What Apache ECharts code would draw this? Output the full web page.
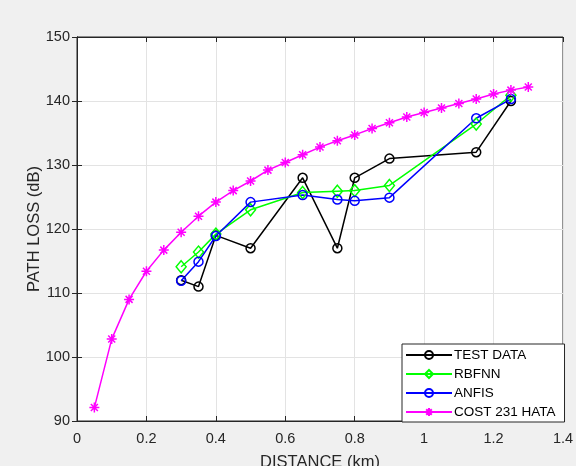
<!DOCTYPE html>
<html><head><meta charset="utf-8">
<script src="https://cdn.jsdelivr.net/npm/echarts@6/dist/echarts.min.js"></script>
<style>html,body{margin:0;padding:0;background:#f0f0f0;}#c{width:576px;height:466px;}</style>
</head><body><div id="c"></div>
<script>
const testX = [0.3, 0.35, 0.4, 0.5, 0.65, 0.75, 0.8, 0.9, 1.15, 1.25];
const testY = [112, 111, 119, 117, 128, 117, 128, 131, 132, 140];
const rbfnnX = [0.3, 0.35, 0.4, 0.5, 0.65, 0.75, 0.8, 0.9, 1.15, 1.25];
const rbfnnY = [114.1, 116.4, 119.2, 123.0, 125.7, 125.9, 126.0, 126.8, 136.4, 140.9];
const anfisX = [0.3, 0.35, 0.4, 0.5, 0.65, 0.75, 0.8, 0.9, 1.15, 1.25];
const anfisY = [111.9, 114.9, 118.9, 124.2, 125.3, 124.6, 124.4, 124.9, 137.3, 140.3];
const hataX = [0.05,0.1,0.15,0.2,0.25,0.3,0.35,0.4,0.45,0.5,0.55,0.6,0.65,0.7,0.75,0.8,0.85,0.9,0.95,1.0,1.05,1.1,1.15,1.2,1.25,1.3];
const hataY = [92.1,102.8,109.0,113.4,116.7,119.5,122.0,124.2,126.0,127.5,129.2,130.4,131.6,132.8,133.8,134.7,135.7,136.6,137.5,138.2,138.9,139.6,140.3,141.1,141.7,142.2];
const xTicks = [0, 0.2, 0.4, 0.6, 0.8, 1, 1.2, 1.4];
const yTicks = [90, 100, 110, 120, 130, 140, 150];
const names = ['TEST DATA', 'RBFNN', 'ANFIS', 'COST 231 HATA'];

const zip = (xs, ys) => xs.map((x, i) => [x, ys[i]]);
const font = 'Liberation Sans, Arial, Helvetica, sans-serif';
const tc = '#262626';
const asterisk = 'path://M0 -1 L0 1 M-1 0 L1 0 M-0.7 -0.7 L0.7 0.7 M-0.7 0.7 L0.7 -0.7';

const chart = echarts.init(document.getElementById('c'), null, {renderer: 'canvas'});
const axisCommon = {
  axisLine: {show: true, lineStyle: {color: '#262626', width: 1}},
  axisTick: {show: true, inside: true, length: 5, lineStyle: {color: '#262626'}},
};
chart.setOption({
  animation: false,
  backgroundColor: '#f0f0f0',
  textStyle: {fontFamily: font},
  grid: {left: 77, right: 13, top: 37, bottom: 45, show: true, outerBoundsMode: 'none', containLabel: false,
         backgroundColor: '#ffffff', borderColor: '#262626', borderWidth: 1},
  xAxis: [{
    type: 'value', min: xTicks[0], max: xTicks[xTicks.length - 1], interval: 0.2,
    name: 'DISTANCE (km)', nameLocation: 'middle', nameGap: 33, nameMoveOverlap: false,
    nameTextStyle: {color: tc, fontSize: 16.5, fontFamily: font},
    axisLabel: {color: tc, fontSize: 14.5, margin: 10, fontFamily: font},
    splitLine: {show: true, lineStyle: {color: '#e3e3e3', width: 1}},
    ...axisCommon
  }, {
    type: 'value', position: 'top', min: xTicks[0], max: xTicks[xTicks.length - 1], interval: 0.2,
    axisLabel: {show: false}, splitLine: {show: false}, ...axisCommon
  }],
  yAxis: [{
    type: 'value', min: yTicks[0], max: yTicks[yTicks.length - 1], interval: 10,
    name: 'PATH LOSS (dB)', nameLocation: 'middle', nameGap: 34, nameMoveOverlap: false,
    nameTextStyle: {color: tc, fontSize: 16.5, fontFamily: font},
    axisLabel: {color: tc, fontSize: 14.5, margin: 7, fontFamily: font},
    splitLine: {show: true, lineStyle: {color: '#e3e3e3', width: 1}},
    ...axisCommon
  }, {
    type: 'value', position: 'right', min: yTicks[0], max: yTicks[yTicks.length - 1], interval: 10,
    axisLabel: {show: false}, splitLine: {show: false}, ...axisCommon
  }],
  legend: {
    orient: 'vertical', left: 402, top: 344,
    backgroundColor: '#ffffff', borderColor: '#262626', borderWidth: 1,
    padding: [4, 9, 3, 3], itemGap: 5, itemWidth: 46, itemHeight: 10,
    textStyle: {color: '#000', fontSize: 13.5, lineHeight: 14, height: 14, fontFamily: font, padding: [0, 0, 0, -3]},
    data: names
  },
  series: [
    {name: names[0], type: 'line', data: zip(testX, testY), symbol: 'circle', symbolSize: 9,
     lineStyle: {color: '#000000', width: 1.5}, itemStyle: {color: 'rgba(0,0,0,0)', borderColor: '#000000', borderWidth: 1.5}},
    {name: names[1], type: 'line', data: zip(rbfnnX, rbfnnY), symbol: 'diamond', symbolSize: [10, 12],
     lineStyle: {color: '#00ff00', width: 1.5}, itemStyle: {color: 'rgba(0,0,0,0)', borderColor: '#00ff00', borderWidth: 1.5}},
    {name: names[2], type: 'line', data: zip(anfisX, anfisY), symbol: 'circle', symbolSize: 9,
     lineStyle: {color: '#0000ff', width: 1.5}, itemStyle: {color: 'rgba(0,0,0,0)', borderColor: '#0000ff', borderWidth: 1.5}},
    {name: names[3], type: 'line', data: zip(hataX, hataY), symbol: asterisk, symbolSize: 10,
     lineStyle: {color: '#ff00ff', width: 1.5}, itemStyle: {color: '#ff00ff', borderColor: '#ff00ff', borderWidth: 1.5}}
  ]
});
</script></body></html>
